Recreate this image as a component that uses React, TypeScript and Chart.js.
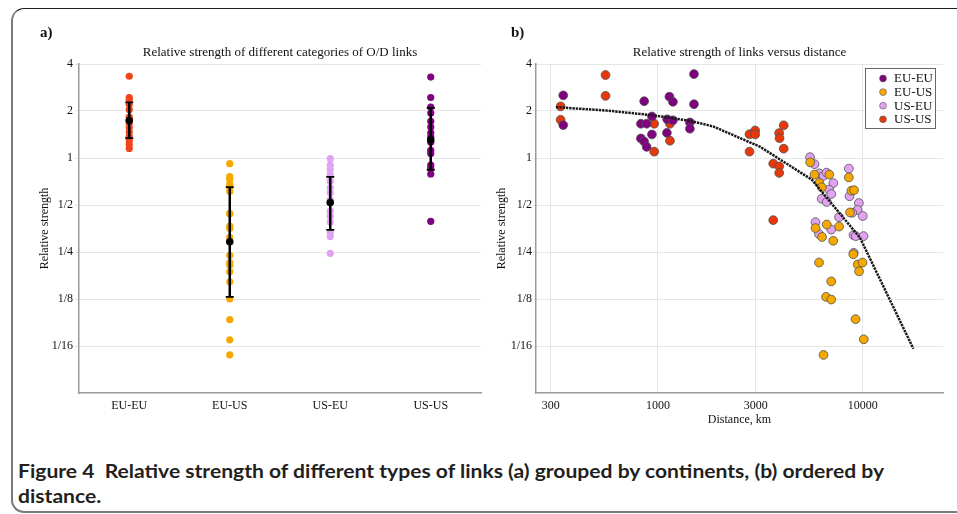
import React, { useEffect, useLayoutEffect, useRef } from 'react';
import { Chart, registerables } from 'chart.js';

Chart.register(...registerables);

const SERIF = '"Liberation Serif", "Times New Roman", serif';

// ---------- shared axis data ----------
const strengthMin = 1 / 32;
const strengthMax = 4;
const strengthTicks = [1 / 16, 1 / 8, 1 / 4, 1 / 2, 1, 2, 4];
const strengthTickLabels = ['1/16', '1/8', '1/4', '1/2', '1', '2', '4'];

// ---------- panel a ----------
const categories = ['EU-EU', 'EU-US', 'US-EU', 'US-US'];
const groupEUEU = [3.34, 2.44, 2.37, 2.21, 2.04, 1.83, 1.75, 1.66, 1.56, 1.47, 1.37, 1.29, 1.22, 1.15];
const groupEUUS = [0.92, 0.76, 0.73, 0.68, 0.644, 0.61, 0.44, 0.44, 0.366, 0.353, 0.31, 0.238, 0.214, 0.206, 0.187, 0.161, 0.125, 0.0922, 0.0685, 0.0548];
const groupUSEU = [0.99, 0.9, 0.84, 0.78, 0.71, 0.644, 0.598, 0.54, 0.457, 0.424, 0.389, 0.33, 0.314, 0.245];
const groupUSUS = [3.3, 2.44, 2.12, 1.94, 1.72, 1.58, 1.45, 1.37, 1.26, 1.12, 1.07, 0.9, 0.857, 0.79, 0.393];
const groupMean = [1.74, 0.291, 0.518, 1.31];
const groupErrHigh = [2.27, 0.65, 0.757, 2.09];
const groupErrLow = [1.34, 0.129, 0.346, 0.84];
const groupColorsA = ['#F0451A', '#F5A800', '#E2A2F2', '#800080'];

// ---------- panel b ----------
const distanceTicks = [300, 1000, 3000, 10000];
const distanceTickLabels = ['300', '1000', '3000', '10000'];
const distanceMin = 254;
const distanceMax = 24650;

const distEUEU = [345, 345, 857, 826, 881, 935, 1138, 1184, 1500, 1500, 1433, 1433, 1106, 935, 826, 857, 881, 1110, 1184];
const strEUEU = [2.52, 1.625, 2.31, 1.657, 1.657, 1.844, 2.47, 2.29, 3.45, 2.21, 1.69, 1.54, 1.45, 1.415, 1.334, 1.275, 1.178, 1.77, 1.744];

const distEUUS = [5540, 5814, 6868, 6138, 6312, 8554, 8798, 9068, 8670, 5880, 6672, 7660, 6327, 7176, 8995, 6116, 9453, 9977, 9593, 7017, 6620, 7017, 9222, 10113, 6435];
const strEUUS = [0.938, 0.783, 0.783, 0.693, 0.649, 0.751, 0.617, 0.622, 0.448, 0.356, 0.375, 0.364, 0.312, 0.295, 0.242, 0.214, 0.208, 0.214, 0.188, 0.162, 0.129, 0.124, 0.0928, 0.069, 0.0548];

const distUSEU = [5529, 5814, 6138, 6435, 6653, 7184, 6845, 7024, 6305, 6672, 7660, 8554, 8621, 9572, 9431, 8887, 10000, 5880, 6116, 7017, 9016, 9243, 10090, 9036];
const strUSEU = [1.012, 0.913, 0.797, 0.769, 0.806, 0.691, 0.628, 0.588, 0.548, 0.523, 0.418, 0.855, 0.569, 0.515, 0.465, 0.446, 0.425, 0.388, 0.326, 0.348, 0.321, 0.316, 0.316, 0.247];

const distUSUS = [335, 335, 555, 555, 959, 959, 1145, 1145, 2799, 2984, 2984, 2800, 3908, 3924, 4113, 4113, 3656, 3910, 3910, 3656];
const strUSUS = [2.14, 1.757, 3.4, 2.5, 1.657, 1.098, 1.657, 1.29, 1.42, 1.5, 1.415, 1.098, 1.445, 1.339, 1.62, 1.147, 0.92, 0.884, 0.803, 0.4];

const trendDist = [318, 562, 935, 1433, 1863, 3150, 5636, 9701, 17670];
const trendStrength = [2.117, 2.014, 1.882, 1.731, 1.592, 1.181, 0.727, 0.308, 0.06];

const seriesLabelsB = ['EU-EU', 'EU-US', 'US-EU', 'US-US'];
const seriesColorsB = ['#800080', '#F5A800', '#E2A2F2', '#E8380A'];

const captionLine1 = 'Figure 4  Relative strength of different types of links (a) grouped by continents, (b) ordered by';
const captionLine2 = 'distance.';

// ---------- helpers ----------
function labelFor(v: number, values: number[], labels: string[]) {
  const i = values.findIndex((t) => Math.abs(Math.log(t) - Math.log(v)) < 1e-6);
  return i >= 0 ? labels[i] : '';
}

const tickFont = { family: SERIF, size: 12 };
const GRID = '#e6e6e6';
const AXIS = '#9a9a9a';
const TEXT = '#111';

function strengthAxis(width: number, tickLength: number, padding: number, titlePad: number) {
  return {
    type: 'logarithmic',
    min: strengthMin,
    max: strengthMax,
    afterBuildTicks: (s: any) => {
      s.ticks = strengthTicks.map((v) => ({ value: v }));
    },
    afterFit: (s: any) => {
      s.width = width;
    },
    ticks: {
      callback: (v: any) => labelFor(Number(v), strengthTicks, strengthTickLabels),
      font: tickFont,
      color: TEXT,
      padding,
      autoSkip: false,
    },
    grid: { color: GRID, tickColor: GRID, tickLength, lineWidth: 1 },
    border: { color: AXIS, width: 1.5 },
    title: {
      display: true,
      text: 'Relative strength',
      font: { family: SERIF, size: 12 },
      color: TEXT,
      padding: { top: titlePad, bottom: 0 },
    },
  };
}

const errorBarPlugin = {
  id: 'errorBars',
  beforeDatasetDraw(chart: any, args: any) {
    if (args.index !== 0) return;
    const { ctx } = chart;
    const x = chart.scales.x;
    const y = chart.scales.y;
    ctx.save();
    ctx.strokeStyle = '#000';
    categories.forEach((_c, i) => {
      const px = x.getPixelForValue(i);
      const yh = y.getPixelForValue(groupErrHigh[i]);
      const yl = y.getPixelForValue(groupErrLow[i]);
      ctx.lineWidth = 2.5;
      ctx.beginPath();
      ctx.moveTo(px, yh);
      ctx.lineTo(px, yl);
      ctx.stroke();
      ctx.lineWidth = 1.8;
      ctx.beginPath();
      ctx.moveTo(px - 4, yh);
      ctx.lineTo(px + 4, yh);
      ctx.moveTo(px - 4, yl);
      ctx.lineTo(px + 4, yl);
      ctx.stroke();
    });
    ctx.restore();
  },
};

const insideLegendPlugin = {
  id: 'insideLegend',
  afterDraw(chart: any) {
    const { ctx, chartArea } = chart;
    const items = chart.data.datasets.slice(1);
    const w = 70;
    const h = 60;
    const left = chartArea.right - 78;
    const top = chartArea.top + 4;
    ctx.save();
    ctx.fillStyle = '#fff';
    ctx.fillRect(left, top, w, h);
    ctx.strokeStyle = '#666';
    ctx.lineWidth = 1;
    ctx.strokeRect(left + 0.5, top + 0.5, w, h);
    items.forEach((ds: any, i: number) => {
      const cy = top + 10.5 + i * 13.6;
      ctx.beginPath();
      ctx.arc(left + 18, cy, 3.4, 0, Math.PI * 2);
      ctx.fillStyle = ds.pointBackgroundColor;
      ctx.fill();
      ctx.strokeStyle = '#555';
      ctx.lineWidth = 0.6;
      ctx.stroke();
      ctx.fillStyle = TEXT;
      ctx.font = `13px ${SERIF}`;
      ctx.textBaseline = 'middle';
      ctx.textAlign = 'left';
      ctx.fillText(ds.label, left + 29, cy + 0.5);
    });
    ctx.restore();
  },
};

function titleOpts(text: string) {
  return {
    display: true,
    text,
    fullSize: false,
    font: { family: SERIF, size: 13, weight: 'normal' as const },
    color: TEXT,
    padding: { top: 4.7, bottom: 3.7 },
  };
}

function PanelA() {
  const ref = useRef<HTMLCanvasElement | null>(null);
  useEffect(() => {
    if (!ref.current) return;
    const groups = [groupEUEU, groupEUUS, groupUSEU, groupUSUS];
    const chart = new Chart(ref.current, {
      type: 'line',
      data: {
        labels: categories,
        datasets: [
          {
            label: 'mean',
            data: categories.map((c, i) => ({ x: c, y: groupMean[i] })) as any,
            showLine: false,
            pointRadius: 3.8,
            pointBackgroundColor: '#000',
            pointBorderWidth: 0,
          },
          ...groups.map((g, gi) => ({
            label: categories[gi],
            data: g.map((v) => ({ x: categories[gi], y: v })) as any,
            showLine: false,
            pointRadius: 3.6,
            pointBackgroundColor: groupColorsA[gi],
            pointBorderWidth: 0,
          })),
        ],
      },
      options: {
        animation: false,
        responsive: false,
        devicePixelRatio: 1,
        events: [],
        layout: { padding: { top: 40, left: 0, right: 9, bottom: 13 } },
        plugins: {
          legend: { display: false },
          tooltip: { enabled: false },
          title: titleOpts('Relative strength of different categories of O/D links'),
        },
        scales: {
          x: {
            type: 'category',
            offset: true,
            grid: { display: false, drawTicks: false },
            border: { color: AXIS, width: 1.5 },
            ticks: { font: tickFont, color: TEXT, padding: 6, maxRotation: 0 },
            afterFit: (s: any) => {
              s.height = 34;
            },
          },
          y: strengthAxis(79, 4, 2, 37.8) as any,
        },
      },
      plugins: [errorBarPlugin],
    });
    return () => chart.destroy();
  }, []);
  return <canvas ref={ref} width={490} height={440} style={{ position: 'absolute', left: 0, top: 0 }} />;
}

function PanelB() {
  const ref = useRef<HTMLCanvasElement | null>(null);
  useEffect(() => {
    if (!ref.current) return;
    const dists = [distEUEU, distEUUS, distUSEU, distUSUS];
    const strs = [strEUEU, strEUUS, strUSEU, strUSUS];
    const chart = new Chart(ref.current, {
      type: 'scatter',
      data: {
        datasets: [
          {
            label: 'trend',
            data: trendDist.map((d, i) => ({ x: d, y: trendStrength[i] })),
            showLine: true,
            borderColor: '#1a1a1a',
            borderWidth: 2.5,
            borderDash: [2.4, 0.9],
            pointRadius: 0,
            tension: 0,
          },
          ...seriesLabelsB.map((lab, si) => ({
            label: lab,
            data: dists[si].map((d, i) => ({ x: d, y: strs[si][i] })),
            showLine: false,
            pointRadius: 4.4,
            pointBackgroundColor: seriesColorsB[si],
            backgroundColor: seriesColorsB[si],
            pointBorderColor: '#505050',
            pointBorderWidth: 0.8,
          })),
        ],
      },
      options: {
        animation: false,
        responsive: false,
        devicePixelRatio: 1,
        events: [],
        layout: { padding: { top: 40, left: 0, right: 14, bottom: 13 } },
        plugins: {
          legend: { display: false },
          tooltip: { enabled: false },
          title: titleOpts('Relative strength of links versus distance'),
        },
        scales: {
          x: {
            type: 'logarithmic',
            min: distanceMin,
            max: distanceMax,
            afterBuildTicks: (s: any) => {
              s.ticks = distanceTicks.map((v) => ({ value: v }));
            },
            afterFit: (s: any) => {
              s.height = 34;
            },
            grid: { color: GRID, drawTicks: false, lineWidth: 1 },
            border: { color: AXIS, width: 1.5 },
            ticks: {
              callback: (v: any) => labelFor(Number(v), distanceTicks, distanceTickLabels),
              font: tickFont,
              color: TEXT,
              padding: 6,
              maxRotation: 0,
              autoSkip: false,
            },
            title: {
              display: true,
              text: 'Distance, km',
              font: { family: SERIF, size: 12 },
              color: TEXT,
              padding: { top: 0, bottom: 0 },
            },
          } as any,
          y: strengthAxis(46, 3, 1, 4.3) as any,
        },
      },
      plugins: [insideLegendPlugin],
    });
    return () => chart.destroy();
  }, []);
  return <canvas ref={ref} width={467} height={440} style={{ position: 'absolute', left: 490, top: 0 }} />;
}

function Caption() {
  const boxRef = useRef<HTMLDivElement | null>(null);
  const lineRef = useRef<HTMLSpanElement | null>(null);
  useLayoutEffect(() => {
    const box = boxRef.current;
    const line = lineRef.current;
    if (!box || !line) return;
    const w = line.getBoundingClientRect().width;
    if (w > 0) box.style.transform = `scaleX(${866 / w})`;
  }, []);
  return (
    <div
      ref={boxRef}
      style={{
        position: 'absolute',
        left: 18,
        top: 458,
        fontFamily: 'Lato, "Liberation Sans", sans-serif',
        fontWeight: 700,
        fontSize: 19.5,
        lineHeight: '25px',
        color: '#231f20',
        whiteSpace: 'pre',
        transformOrigin: '0 0',
      }}
    >
      <span ref={lineRef}>{captionLine1}</span>
      <br />
      <span>{captionLine2}</span>
    </div>
  );
}

export default function App() {
  return (
    <div style={{ position: 'absolute', left: 0, top: 0, width: 957, height: 514, overflow: 'hidden', background: '#fff' }}>
      <div
        style={{
          position: 'absolute',
          left: 11,
          top: 7.5,
          width: 1000,
          height: 505,
          boxSizing: 'border-box',
          borderTop: '1.5px solid #1e1e1e',
          borderLeft: '2px solid #7a7a7a',
          borderBottom: '2px solid #7a7a7a',
          borderRadius: 13,
        }}
      />
      <PanelA />
      <PanelB />
      <div style={{ position: 'absolute', left: 40, top: 24, font: `bold 15px ${SERIF}`, lineHeight: '16px', color: '#111' }}>a)</div>
      <div style={{ position: 'absolute', left: 511, top: 24, font: `bold 15px ${SERIF}`, lineHeight: '16px', color: '#111' }}>b)</div>
      <Caption />
    </div>
  );
}
